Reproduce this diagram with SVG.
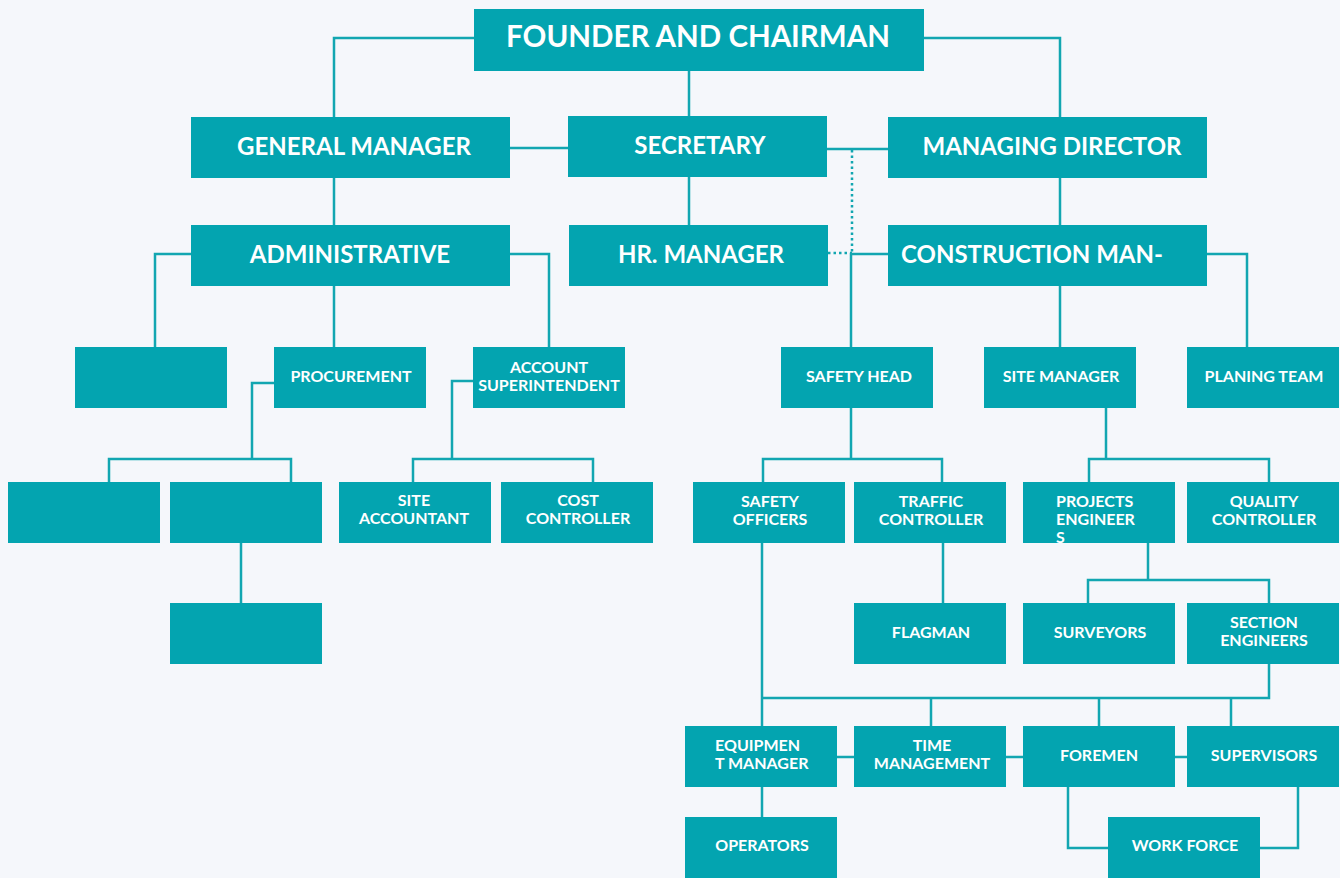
<svg xmlns="http://www.w3.org/2000/svg" width="1340" height="878" viewBox="0 0 1340 878">
<style>
.b{fill:#03a4b0}
.t{fill:#fff;font-family:Lato,"Open Sans",sans-serif;font-weight:bold;text-anchor:middle}
.xl{font-size:29.5px}
.l{font-size:24px}
.s{font-size:16px}
.c{fill:none;stroke:#12a6b1;stroke-width:2.5}
.d{fill:none;stroke:#12a6b1;stroke-width:2.5;stroke-dasharray:2.5 3}
</style>
<rect width="1340" height="878" fill="#f5f7fb"/>
<g id="connectors">
<path class="c" d="M474 38H334V117M924 38H1060V117M689 71V116M510 148H568M827 149H888M334 178V225M689 177V225M1060 178V225"/>
<path class="d" d="M852 150V253M828 253H852"/>
<path class="c" d="M888 254H851V347M191 254H155V347M334 286V347M510 254H549V347M1207 254H1247V347M1060 286V347"/>
<path class="c" d="M274 383H252V459M109 482V459H291V482M241 543V603"/>
<path class="c" d="M473 381H452V459M413 482V459H593V482"/>
<path class="c" d="M851 408V459M763 482V459H942V482M943 543V603"/>
<path class="c" d="M1106 408V459M1089 482V459H1269V482"/>
<path class="c" d="M1148 543V580M1088 603V580H1269V603"/>
<path class="c" d="M762 543V726M1269 664V698H762M931 698V726M1099 698V726M1231 698V726"/>
<path class="c" d="M837 757H854M1006 757H1023M1175 757H1187M762 787V817M1068 787V848H1108M1298 787V848H1260"/>
</g>
<g id="founder"><rect class="b" x="474" y="9" width="450" height="62"/><text class="t xl" x="698" y="47">FOUNDER AND CHAIRMAN</text></g>
<g id="general-manager"><rect class="b" x="191" y="117" width="319" height="61"/><text class="t l" x="354" y="155">GENERAL MANAGER</text></g>
<g id="secretary"><rect class="b" x="568" y="116" width="259" height="61"/><text class="t l" x="700" y="154">SECRETARY</text></g>
<g id="managing-director"><rect class="b" x="888" y="117" width="319" height="61"/><text class="t l" x="1052" y="155">MANAGING DIRECTOR</text></g>
<g id="administrative"><rect class="b" x="191" y="225" width="319" height="61"/><text class="t l" x="350" y="263">ADMINISTRATIVE</text></g>
<g id="hr-manager"><rect class="b" x="569" y="225" width="259" height="61"/><text class="t l" x="701" y="263">HR. MANAGER</text></g>
<g id="construction-manager"><rect class="b" x="888" y="225" width="319" height="61"/><text class="t l" x="1032" y="263">CONSTRUCTION MAN-</text></g>
<g id="blank-1"><rect class="b" x="75" y="347" width="152" height="61"/></g>
<g id="procurement"><rect class="b" x="274" y="347" width="152" height="61"/><text class="t s" x="351" y="382">PROCUREMENT</text></g>
<g id="account-superintendent"><rect class="b" x="473" y="347" width="152" height="61"/><text class="t s" x="549" y="373">ACCOUNT</text><text class="t s" x="549" y="391">SUPERINTENDENT</text></g>
<g id="safety-head"><rect class="b" x="781" y="347" width="152" height="61"/><text class="t s" x="859" y="382">SAFETY HEAD</text></g>
<g id="site-manager"><rect class="b" x="984" y="347" width="152" height="61"/><text class="t s" x="1061" y="382">SITE MANAGER</text></g>
<g id="planing-team"><rect class="b" x="1187" y="347" width="152" height="61"/><text class="t s" x="1264" y="382">PLANING TEAM</text></g>
<g id="blank-2"><rect class="b" x="8" y="482" width="152" height="61"/></g>
<g id="blank-3"><rect class="b" x="170" y="482" width="152" height="61"/></g>
<g id="site-accountant"><rect class="b" x="339" y="482" width="152" height="61"/><text class="t s" x="414" y="506">SITE</text><text class="t s" x="414" y="524">ACCOUNTANT</text></g>
<g id="cost-controller"><rect class="b" x="501" y="482" width="152" height="61"/><text class="t s" x="578" y="506">COST</text><text class="t s" x="578" y="524">CONTROLLER</text></g>
<g id="safety-officers"><rect class="b" x="693" y="482" width="152" height="61"/><text class="t s" x="770" y="507">SAFETY</text><text class="t s" x="770" y="525">OFFICERS</text></g>
<g id="traffic-controller"><rect class="b" x="854" y="482" width="152" height="61"/><text class="t s" x="931" y="507">TRAFFIC</text><text class="t s" x="931" y="525">CONTROLLER</text></g>
<g id="projects-engineers"><rect class="b" x="1023" y="482" width="152" height="61"/><text class="t s" x="1056" y="507" style="text-anchor:start">PROJECTS</text><text class="t s" x="1056" y="525" style="text-anchor:start">ENGINEER</text><text class="t s" x="1056" y="543" style="text-anchor:start">S</text></g>
<g id="quality-controller"><rect class="b" x="1187" y="482" width="152" height="61"/><text class="t s" x="1264" y="507">QUALITY</text><text class="t s" x="1264" y="525">CONTROLLER</text></g>
<g id="blank-4"><rect class="b" x="170" y="603" width="152" height="61"/></g>
<g id="flagman"><rect class="b" x="854" y="603" width="152" height="61"/><text class="t s" x="931" y="638">FLAGMAN</text></g>
<g id="surveyors"><rect class="b" x="1023" y="603" width="152" height="61"/><text class="t s" x="1100" y="638">SURVEYORS</text></g>
<g id="section-engineers"><rect class="b" x="1187" y="603" width="152" height="61"/><text class="t s" x="1264" y="628">SECTION</text><text class="t s" x="1264" y="646">ENGINEERS</text></g>
<g id="equipment-manager"><rect class="b" x="685" y="726" width="152" height="61"/><text class="t s" x="715" y="751" style="text-anchor:start">EQUIPMEN</text><text class="t s" x="715" y="769" style="text-anchor:start">T MANAGER</text></g>
<g id="time-management"><rect class="b" x="854" y="726" width="152" height="61"/><text class="t s" x="932" y="751">TIME</text><text class="t s" x="932" y="769">MANAGEMENT</text></g>
<g id="foremen"><rect class="b" x="1023" y="726" width="152" height="61"/><text class="t s" x="1099" y="761">FOREMEN</text></g>
<g id="supervisors"><rect class="b" x="1187" y="726" width="152" height="61"/><text class="t s" x="1264" y="761">SUPERVISORS</text></g>
<g id="operators"><rect class="b" x="685" y="817" width="152" height="61"/><text class="t s" x="762" y="851">OPERATORS</text></g>
<g id="work-force"><rect class="b" x="1108" y="817" width="152" height="61"/><text class="t s" x="1185" y="851">WORK FORCE</text></g>
</svg>
